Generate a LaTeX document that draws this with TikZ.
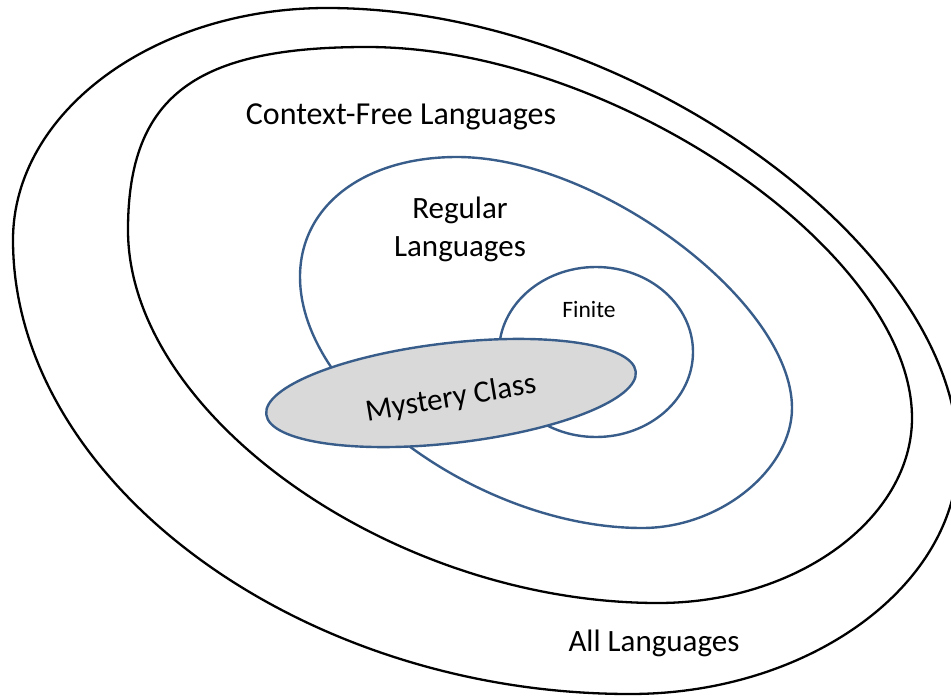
\documentclass[tikz,border=0pt]{standalone}
\usepackage{fontspec}
\setmainfont{Carlito}
\usepackage{tikz}
\usetikzlibrary{shapes}
\usetikzlibrary{positioning}
\definecolor{setblue}{RGB}{56,93,138}
\definecolor{mysterygray}{RGB}{217,217,217}

\begin{document}
\begin{tikzpicture}[x=1pt, y=-1pt,
        setline/.style={line width=2.3pt, black},
        regline/.style={line width=2.4pt, setblue},
        setlabel/.style={font=\fontsize{31}{38}\selectfont, inner sep=0pt, align=center}]
        \useasboundingbox (0,0) rectangle (951,696);
        \clip (0,0) rectangle (951,696);

        % all languages
        \draw[setline] (327,8) .. controls (627,8) and (958,245) .. (958,455)
            .. controls (958,585) and (810,694) .. (630,694)
            .. controls (300,694) and (13,482) .. (13,240)
            .. controls (13,112) and (154,8) .. cycle;
        % context-free
        \draw[setline] (367,47) .. controls (612,47) and (912,251) .. (912,418)
            .. controls (912,518) and (798,603) .. (658,603)
            .. controls (393,603) and (128,415) .. (128,230)
            .. controls (128,95) and (197,47) .. cycle;
        % regular
        \draw[regline] (457,157) .. controls (599,157) and (792,302) .. (792,408)
            .. controls (792,468) and (722,528) .. (642,528)
            .. controls (482,528) and (300,397) .. (300,277)
            .. controls (300,205) and (365,157) .. cycle;
        % finite
        \draw[regline] (596,352) ellipse [x radius=97, y radius=85];

        \node[ellipse, draw=setblue, line width=2.4pt, fill=mysterygray, minimum width=372pt, minimum height=100pt, rotate=6.6] (mystery) at (451,393) {};
        \node[setlabel, rotate=9.5] (mysterytext) at (451,399) {Mystery Class};

        \node[setlabel, font=\fontsize{32}{38}\selectfont] (cfl) at (401,117) {Context-Free Languages};
        \node[setlabel] (reg) at (460,229) {Regular\\Languages};
        \node[setlabel, font=\fontsize{23.5}{28}\selectfont] (fin) at (589,309) {Finite};
        \node[setlabel] (all) at (654,643) {All Languages};
    \end{tikzpicture}
\end{document}
